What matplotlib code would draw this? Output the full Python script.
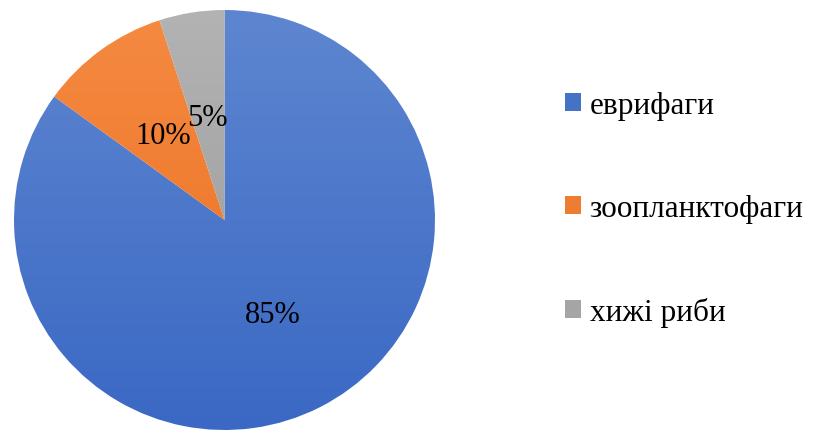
import numpy as np
import matplotlib.pyplot as plt
from matplotlib.colors import LinearSegmentedColormap

labels = ['еврифаги', 'зоопланктофаги', 'хижі риби']
values = [85, 10, 5]
top_colors = ['#5E86D0', '#F58A42', '#B3B3B3']
bottom_colors = ['#3A68C4', '#E96E1E', '#979797']
base_colors = ['#4472C4', '#ED7D31', '#A5A5A5']

plt.rcParams['font.family'] = ['Liberation Serif', 'DejaVu Serif']

fig = plt.figure(figsize=(8.13, 4.31), dpi=100)
ax = fig.add_axes([14 / 813, 0 / 431, 421 / 813, 420 / 431])

wedges, texts = ax.pie(values, colors=base_colors, startangle=90, counterclock=False,
                       radius=1.0, wedgeprops=dict(linewidth=0))
ax.set_xlim(-1, 1)
ax.set_ylim(-1, 1)

# vertical gradient fill, clipped to each wedge
grad = np.linspace(0, 1, 256).reshape(-1, 1)
for w, c1, c2 in zip(wedges, top_colors, bottom_colors):
    cmap = LinearSegmentedColormap.from_list('g', [c1, c2])
    im = ax.imshow(grad, cmap=cmap, extent=[-1, 1, -1, 1], aspect='auto', zorder=w.get_zorder() + 0.1)
    im.set_clip_path(w)
    w.set_facecolor('none')

# percent labels
label_pos = [(0.23, -0.45), (-0.29, 0.40), (-0.08, 0.49)]
for v, (x, y) in zip(values, label_pos):
    ax.text(x, y, f'{v}%', ha='center', va='center', fontsize=22, zorder=10)

ax.set_axis_off()

handles = [plt.Rectangle((0, 0), 1, 1, facecolor=c) for c in base_colors]
fig.legend(handles, labels, loc='center left', bbox_to_anchor=(537 / 813, 221 / 431),
           frameon=False, fontsize=22.5, labelspacing=2.37, handlelength=0.52,
           handleheight=0.52, handletextpad=0.26)

fig.savefig('out.png', dpi=100)
